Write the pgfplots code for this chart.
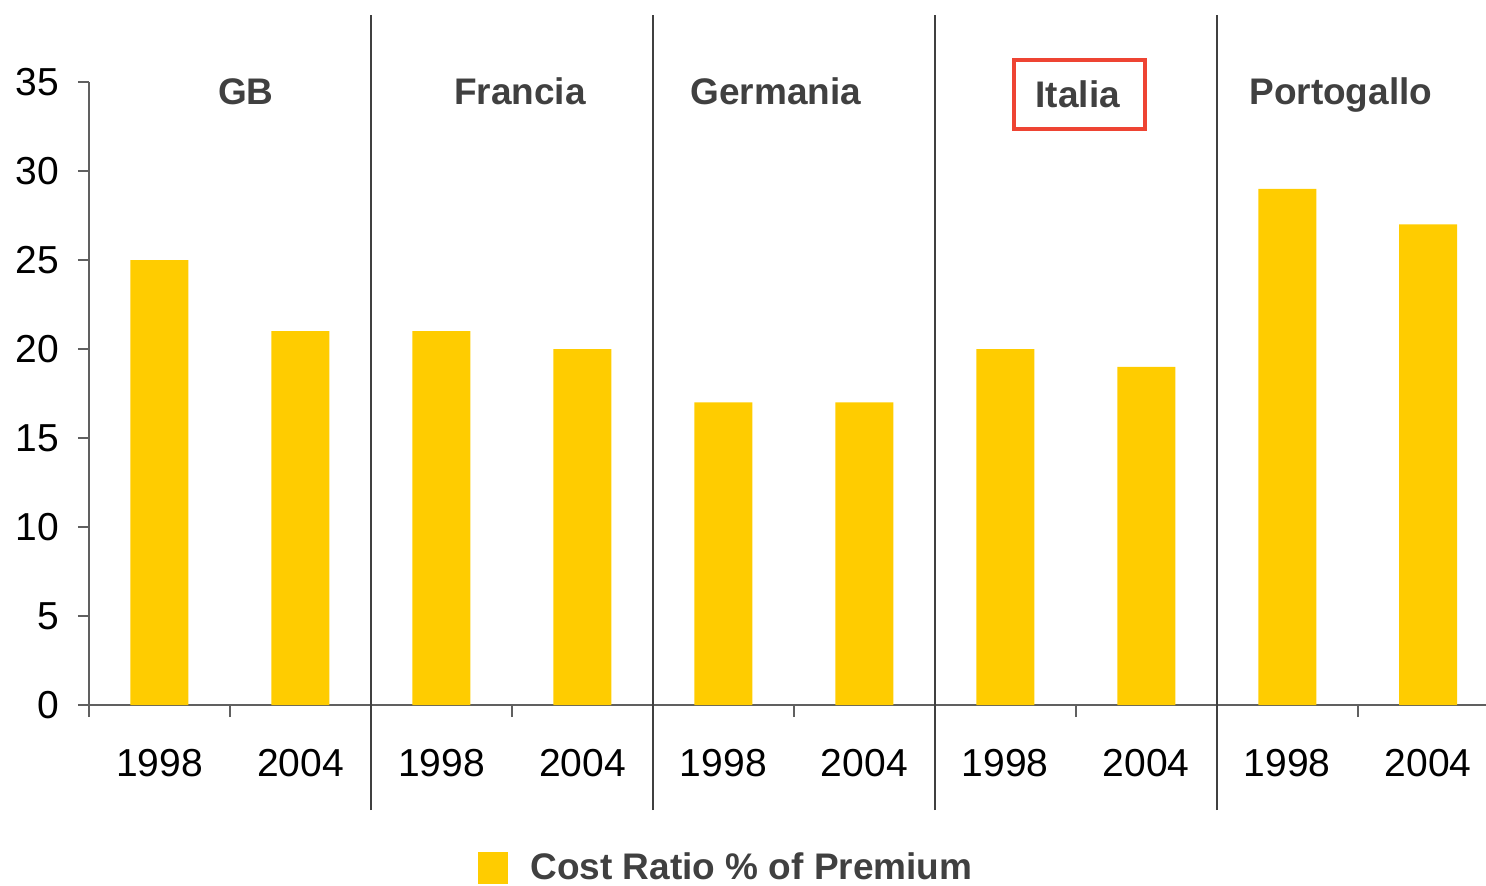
\documentclass[border=0pt]{standalone}
\usepackage{fontspec}
\setmainfont{Liberation Sans}
\usepackage{pgfplots}
\pgfplotsset{compat=1.18}
\definecolor{baryel}{HTML}{FFCC00}
\definecolor{txtgray}{HTML}{404040}
\definecolor{axgray}{HTML}{606060}
\definecolor{boxred}{HTML}{EE4433}
\begin{document}
\begin{tikzpicture}
\useasboundingbox (0,0) rectangle (743pt,442.5pt);
\begin{axis}[
  at={(44.5pt,90pt)}, anchor=south west,
  scale only axis, width=698.5pt, height=311.5pt,
  xmin=-0.5, xmax=9.41, ymin=0, ymax=35,
  ytick={0,5,...,35},
  xtick={0,...,9},
  xticklabels={1998,2004,1998,2004,1998,2004,1998,2004,1998,2004},
  minor xtick={-0.5,0.5,...,8.5},
  axis x line*=bottom, axis y line*=left,
  axis line style={axgray, line width=0.8pt},
  tick align=outside,
  major tick length=5.5pt, minor tick length=6pt,
  major x tick style={draw=none},
  minor x tick style={axgray, line width=0.8pt},
  major y tick style={axgray, line width=0.8pt},
  /pgf/number format/assume math mode=true,
  ticklabel style={font=\fontsize{19.5}{23}\selectfont, text=black},
  xticklabel style={yshift=-13pt},
  yticklabel style={xshift=-6pt},
  clip=false,
  legend style={at={(axis description cs:0.2785,-0.2616)}, anchor=west, draw=none, fill=none, inner sep=0pt,
    font=\bfseries\fontsize{18.5}{22}\selectfont, text=txtgray},
  legend image code/.code={\fill[baryel] (0pt,-8pt) rectangle (15pt,8pt); \path (24pt,0pt);},
]
\addplot[ybar, bar width=29pt, fill=baryel, draw=none] coordinates {
  (0,25) (1,21) (2,21) (3,20) (4,17) (5,17) (6,20) (7,19) (8,29) (9,27)
};
\addlegendentry{Cost Ratio \% of Premium}
\pgfplotsinvokeforeach{1.5,3.5,5.5,7.5}{
  \draw[txtgray, line width=1pt] (axis cs:#1,-5.9) -- (axis cs:#1,38.76);
}
\node[anchor=base, font=\bfseries\fontsize{18.5}{22}\selectfont, text=txtgray] at (axis cs:0.613,33.75) {GB};
\node[anchor=base, font=\bfseries\fontsize{18.5}{22}\selectfont, text=txtgray] at (axis cs:2.557,33.75) {Francia};
\node[anchor=base, font=\bfseries\fontsize{18.5}{22}\selectfont, text=txtgray] at (axis cs:4.372,33.75) {Germania};
\node[anchor=base, font=\bfseries\fontsize{18.5}{22}\selectfont, text=txtgray] at (axis cs:6.514,33.54) {Italia};
\draw[boxred, line width=2pt] (axis cs:6.06,32.36) rectangle (axis cs:6.99,36.24);
\node[anchor=base, font=\bfseries\fontsize{18.5}{22}\selectfont, text=txtgray] at (axis cs:8.38,33.75) {Portogallo};
\end{axis}
\end{tikzpicture}
\end{document}
